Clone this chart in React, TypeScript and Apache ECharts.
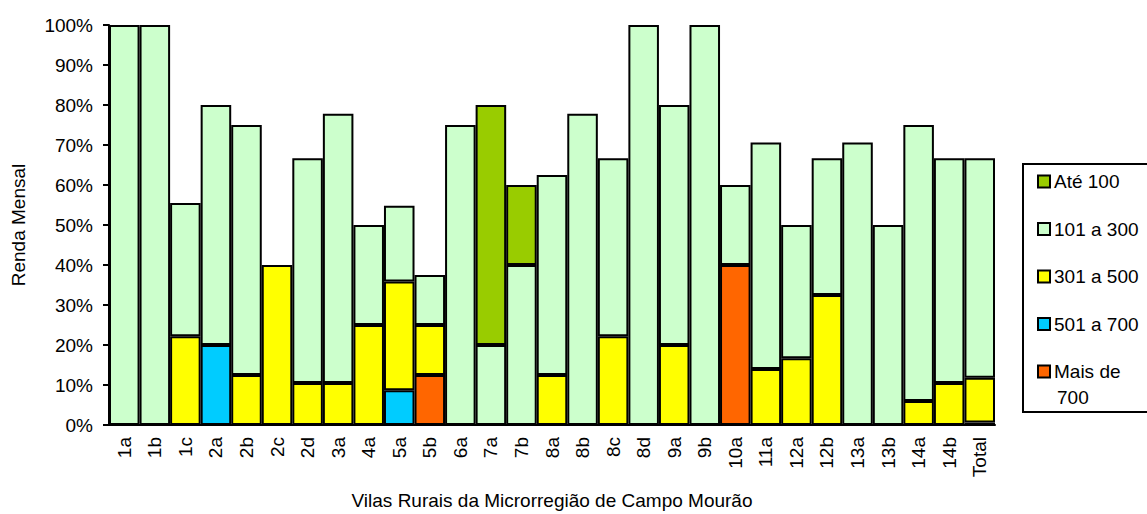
import React, { useEffect, useRef } from "react";
import * as echarts from "echarts";

const categories = ["1a","1b","1c","2a","2b","2c","2d","3a","4a","5a","5b","6a","7a","7b","8a","8b","8c","8d","9a","9b","10a","11a","12a","12b","13a","13b","14a","14b","Total"];

const maisDe700 = [null,null,null,null,null,null,null,null,null,null,12.5,null,null,null,null,null,null,null,null,null,40,null,null,null,null,null,null,null,0.6];
const de501a700 = [null,null,null,20,null,null,null,null,null,8.7,null,null,null,null,null,null,null,null,null,null,null,null,null,null,null,null,null,null,null];
const de301a500 = [null,null,22.2,null,12.5,40,10.5,10.5,25,27.2,12.5,null,null,null,12.5,null,22.2,null,20,null,null,14,16.7,32.5,null,null,6,10.5,11.2];
const de101a300 = [100,100,33.3,60,62.5,null,56.2,67.3,25,18.9,12.5,75,20,40,50,77.8,44.5,100,60,100,20,56.6,33.3,34.2,70.6,50,69,56.2,54.9];
const ate100 = [null,null,null,null,null,null,null,null,null,null,null,null,60,20,null,null,null,null,null,null,null,null,null,null,null,null,null,null,null];

const yTicks = [0, 10, 20, 30, 40, 50, 60, 70, 80, 90, 100];

const FONT = "'Liberation Sans', Arial, sans-serif";

export default function App() {
  const ref = useRef<HTMLDivElement>(null);
  useEffect(() => {
    if (!ref.current) return;
    const chart = echarts.init(ref.current, null, { renderer: "svg" });
    const mk = (name: string, data: any[], color: string) => ({
      name,
      type: "bar",
      stack: "total",
      data,
      barWidth: "100%",
      barCategoryGap: "0%",
      itemStyle: { color, borderColor: "#000", borderWidth: 2 },
    });
    chart.setOption({
      animation: false,
      textStyle: { fontFamily: FONT },
      grid: { left: 109, right: 152, top: 25, bottom: 89, containLabel: false, outerBoundsMode: "none" },
      legend: {
        orient: "vertical",
        left: 1037,
        top: 169,
        itemGap: 22.5,
        itemWidth: 12,
        itemHeight: 12,
        padding: 0,
        icon: "rect",
        data: ["Até 100", "101 a 300", "301 a 500", "501 a 700", "Mais de 700"],
        formatter: (n: string) => (n === "Mais de 700" ? "Mais de" : n),
        textStyle: { fontSize: 19, color: "#000", fontFamily: FONT, lineHeight: 25, padding: [0, 0, 0, -1] },
        itemStyle: { borderColor: "#000", borderWidth: 2 },
      },
      graphic: [
        {
          type: "rect",
          shape: { x: 1023, y: 164, width: 200, height: 248 },
          style: { fill: "none", stroke: "#000", lineWidth: 2 },
          z: 0,
        },
        {
          type: "text",
          x: 1057,
          y: 397,
          style: { text: "700", fontSize: 19, fontFamily: FONT, fill: "#000", verticalAlign: "middle" },
        },
      ],
      xAxis: {
        type: "category",
        data: categories,
        name: "Vilas Rurais da Microrregião de Campo Mourão",
        nameLocation: "middle",
        nameGap: 66,
        nameTextStyle: { fontSize: 19, color: "#000", fontFamily: FONT },
        axisLine: { lineStyle: { color: "#000", width: 2 } },
        axisTick: { show: false },
        axisLabel: { rotate: 90, fontSize: 19, color: "#000", margin: 12, fontFamily: FONT, interval: 0 },
      },
      yAxis: {
        type: "value",
        min: yTicks[0],
        max: yTicks[yTicks.length - 1],
        interval: 10,
        name: "Renda Mensal",
        nameLocation: "middle",
        nameGap: 81,
        nameTextStyle: { fontSize: 19, color: "#000", fontFamily: FONT },
        axisLine: { show: true, lineStyle: { color: "#000", width: 2 } },
        axisTick: { show: true, length: 6, lineStyle: { color: "#000", width: 2 } },
        splitLine: { show: false },
        axisLabel: { formatter: "{value}%", fontSize: 19, color: "#000", margin: 16, fontFamily: FONT },
      },
      series: [
        mk("Mais de 700", maisDe700, "#FF6600"),
        mk("501 a 700", de501a700, "#00CCFF"),
        mk("301 a 500", de301a500, "#FFFF00"),
        mk("101 a 300", de101a300, "#CCFFCC"),
        mk("Até 100", ate100, "#99CC00"),
      ],
    });
    return () => chart.dispose();
  }, []);
  return <div ref={ref} style={{ position: "fixed", left: 0, top: 0, width: 1147, height: 514, background: "#fff" }} />;
}
